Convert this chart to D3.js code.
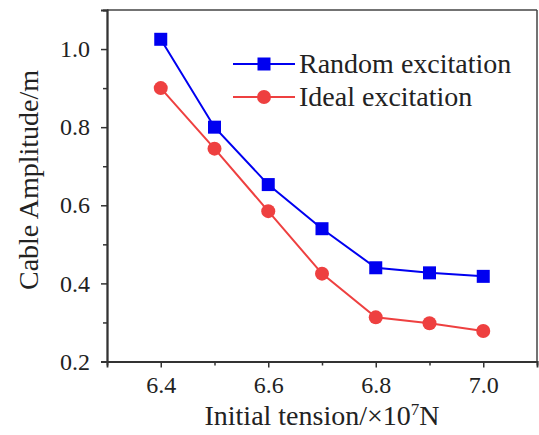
<!DOCTYPE html>
<html><head><meta charset="utf-8">
<script src="https://cdn.jsdelivr.net/npm/d3@7"></script>
<style>
body{margin:0;background:#fff;}
text{font-family:"Liberation Serif","Times New Roman",serif;}
</style></head>
<body><svg id="c" width="539" height="435"></svg>
<script>
const tensions = [6.4, 6.5, 6.6, 6.7, 6.8, 6.9, 7.0];
const randomAmp = [1.025, 0.800, 0.653, 0.540, 0.440, 0.427, 0.418];
const idealAmp = [0.900, 0.745, 0.585, 0.425, 0.313, 0.298, 0.278];
const xTicks = [6.4, 6.6, 6.8, 7.0];
const yTicks = [0.2, 0.4, 0.6, 0.8, 1.0];
const seriesNames = ["Random excitation", "Ideal excitation"];

const svg = d3.select("#c");
const L = 107, R = 537, T = 10, B = 361.5;
const x = d3.scaleLinear().domain([6.3, 7.1]).range([L, R]);
const y = d3.scaleLinear().domain([0.2, 1.1]).range([B, T]);

svg.append("line").attr("x1", L).attr("x2", R).attr("y1", T).attr("y2", T).attr("stroke", "#444").attr("stroke-width", 1.5);
svg.append("line").attr("x1", R).attr("x2", R).attr("y1", T).attr("y2", B).attr("stroke", "#444").attr("stroke-width", 1.5);

const xAxis = svg.append("g").attr("transform", `translate(0,${B})`)
  .call(d3.axisBottom(x).tickValues(xTicks).tickFormat(d3.format(".1f")).tickSize(6).tickPadding(8));
const xMinor = svg.append("g").attr("transform", `translate(0,${B})`)
  .call(d3.axisBottom(x).tickValues([6.5, 6.7, 6.9]).tickFormat("").tickSize(4));
const yAxis = svg.append("g").attr("transform", `translate(${L},0)`)
  .call(d3.axisLeft(y).tickValues(yTicks).tickFormat(d3.format(".1f")).tickSize(6).tickPadding(11));
const yMinor = svg.append("g").attr("transform", `translate(${L},0)`)
  .call(d3.axisLeft(y).tickValues([0.3, 0.5, 0.7, 0.9]).tickFormat("").tickSize(4));
[xAxis, xMinor, yAxis, yMinor].forEach(g => {
  g.attr("font-family", "'Liberation Serif','Times New Roman',serif");
  g.select(".domain").attr("stroke", "#333").attr("stroke-width", 1.8);
  g.selectAll(".tick line").attr("stroke", "#333").attr("stroke-width", 1.5);
  g.selectAll("text").attr("font-size", 24).attr("fill", "#222");
});

const line = d3.line().x((d, i) => x(tensions[i])).y(d => y(d));
const blue = "#0000f0", red = "#ee4040";
svg.append("path").datum(randomAmp).attr("d", line).attr("fill", "none").attr("stroke", blue).attr("stroke-width", 2);
svg.append("path").datum(idealAmp).attr("d", line).attr("fill", "none").attr("stroke", red).attr("stroke-width", 2);
const sq = 13;
svg.selectAll(".sq").data(randomAmp).enter().append("rect")
  .attr("x", (d, i) => x(tensions[i]) - sq / 2).attr("y", d => y(d) - sq / 2)
  .attr("width", sq).attr("height", sq).attr("fill", blue);
svg.selectAll(".ci").data(idealAmp).enter().append("circle")
  .attr("cx", (d, i) => x(tensions[i])).attr("cy", d => y(d)).attr("r", 7).attr("fill", red);

const lg = [{c: blue, m: "sq", yy: 64}, {c: red, m: "ci", yy: 97}];
lg.forEach((l, i) => {
  svg.append("line").attr("x1", 233).attr("x2", 295).attr("y1", l.yy).attr("y2", l.yy).attr("stroke", l.c).attr("stroke-width", 2);
  if (l.m === "sq") svg.append("rect").attr("x", 264 - sq / 2).attr("y", l.yy - sq / 2).attr("width", sq).attr("height", sq).attr("fill", l.c);
  else svg.append("circle").attr("cx", 264).attr("cy", l.yy).attr("r", 7).attr("fill", l.c);
  svg.append("text").attr("x", 299).attr("y", l.yy + 9).attr("font-size", 28).attr("fill", "#222").text(seriesNames[i]);
});

svg.append("text").attr("transform", "translate(38,180) rotate(-90)").attr("text-anchor", "middle")
  .attr("font-size", 28).attr("fill", "#222").text("Cable Amplitude/m");
const xt = svg.append("text").attr("x", 322).attr("y", 425).attr("text-anchor", "middle").attr("font-size", 28).attr("fill", "#222");
xt.append("tspan").text("Initial tension/×10");
xt.append("tspan").attr("dy", -10).attr("font-size", 17).text("7");
xt.append("tspan").attr("dy", 10).text("N");
</script></body></html>
